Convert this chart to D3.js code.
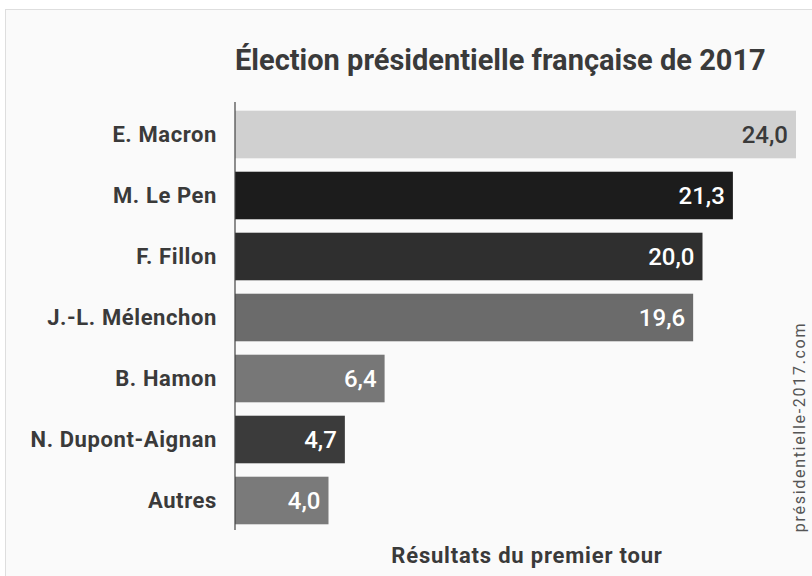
<!DOCTYPE html>
<html>
<head>
<meta charset="utf-8">
<script src="https://cdn.jsdelivr.net/npm/d3@7"></script>
<style>
  html, body { margin: 0; padding: 0; background: #fff; }
  svg { display: block; font-family: Roboto, "Noto Sans", sans-serif; }
</style>
</head>
<body>
<div id="chart"></div>
<script>
const candidates = ['E. Macron', 'M. Le Pen', 'F. Fillon', 'J.-L. Mélenchon', 'B. Hamon', 'N. Dupont-Aignan', 'Autres'];
const scores = [24.0, 21.3, 20.0, 19.6, 6.4, 4.7, 4.0];
const barColors = ['#d0d0d0', '#1c1c1c', '#2f2f2f', '#6b6b6b', '#777777', '#3b3b3b', '#7a7a7a'];
const labelColors = ['#3a3a3a', '#fff', '#fff', '#fff', '#fff', '#fff', '#fff'];

const W = 812, H = 576;
const svg = d3.select('#chart').append('svg').attr('width', W).attr('height', H);

// panel
svg.append('rect')
  .attr('x', 5.5).attr('y', 9.5).attr('width', W).attr('height', H)
  .attr('fill', '#fafafa').attr('stroke', '#dedede');

const x = d3.scaleLinear().domain([0, 24]).range([235, 796]);
const y = d3.scaleBand().domain(candidates).range([104, 531]).paddingInner(0.22).paddingOuter(0.11);

svg.append('text')
  .attr('x', 235).attr('y', 70)
  .attr('fill', '#3a3a3a')
  .style('font-size', '29px').style('font-weight', 700)
  .text('Élection présidentielle française de 2017');

const data = candidates.map((c, i) => ({ name: c, value: scores[i], color: barColors[i], lc: labelColors[i] }));

svg.selectAll('rect.bar')
  .data(data)
  .join('rect')
  .attr('class', 'bar')
  .attr('x', x(0))
  .attr('y', (d) => y(d.name))
  .attr('width', (d) => x(d.value) - x(0))
  .attr('height', y.bandwidth())
  .attr('fill', (d) => d.color);

// left axis (labels only)
const yAxis = svg.append('g')
  .attr('transform', `translate(${x(0)},0)`)
  .call(d3.axisLeft(y).tickSize(0).tickPadding(18));
yAxis.select('.domain').remove();
yAxis.selectAll('text')
  .attr('fill', '#3a3a3a')
  .style('font-family', 'Roboto, sans-serif')
  .style('font-size', '22px').style('font-weight', 700)
  .style('letter-spacing', '0.6px');

svg.append('line')
  .attr('x1', x(0)).attr('x2', x(0))
  .attr('y1', 102).attr('y2', 530)
  .attr('stroke', '#444').attr('stroke-width', 1.2);

svg.selectAll('text.val')
  .data(data)
  .join('text')
  .attr('class', 'val')
  .attr('x', (d) => x(d.value) - 8)
  .attr('y', (d) => y(d.name) + y.bandwidth() / 2)
  .attr('dy', '0.35em')
  .attr('text-anchor', 'end')
  .attr('fill', (d) => d.lc)
  .style('font-size', '24px').style('font-weight', 500)
  .text((d) => d3.format('.1f')(d.value).replace('.', ','));

svg.append('text')
  .attr('x', 527).attr('y', 563)
  .attr('text-anchor', 'middle')
  .attr('fill', '#3a3a3a')
  .style('font-size', '22px').style('font-weight', 700)
  .style('letter-spacing', '0.8px')
  .text('Résultats du premier tour');

svg.append('text')
  .attr('transform', 'translate(805,427) rotate(-90)')
  .attr('text-anchor', 'middle')
  .attr('fill', '#555')
  .style('font-size', '16px').style('letter-spacing', '1.7px')
  .text('présidentielle-2017.com');
</script>
</body>
</html>
